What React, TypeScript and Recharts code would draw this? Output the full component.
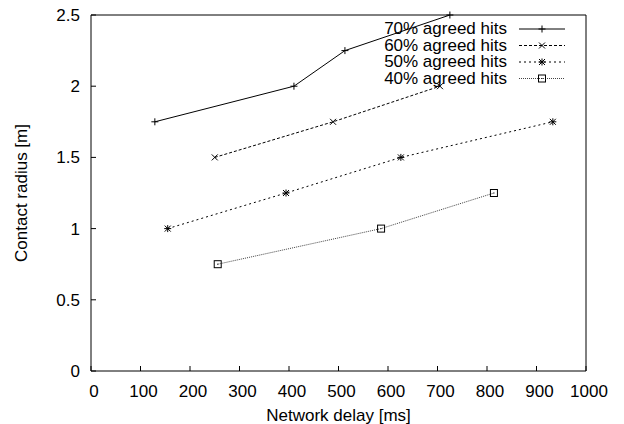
import React from 'react'
import { LineChart, Line, XAxis, YAxis } from 'recharts'

// delay [ms] / radius [m]
const delay70 = [129, 410, 513, 725]
const radius70 = [1.75, 2.0, 2.25, 2.5]
const delay60 = [250, 489, 705]
const radius60 = [1.5, 1.75, 2.0]
const delay50 = [155, 394, 626, 933]
const radius50 = [1.0, 1.25, 1.5, 1.75]
const delay40 = [256, 586, 814]
const radius40 = [0.75, 1.0, 1.25]

const xTicks = [0, 100, 200, 300, 400, 500, 600, 700, 800, 900, 1000]
const yTicks = [0, 0.5, 1, 1.5, 2, 2.5]

const FONT = '"Liberation Sans", Arial, sans-serif'

const zip = (xs: number[], ys: number[]) => xs.map((x, i) => ({ x, y: ys[i] }))

type MarkerKind = 'plus' | 'cross' | 'star' | 'square'

function Marker({ cx, cy, kind }: { cx: number; cy: number; kind: MarkerKind }) {
  const s = 3.5
  const plus = (
    <>
      <line x1={cx - s} y1={cy} x2={cx + s} y2={cy} />
      <line x1={cx} y1={cy - s} x2={cx} y2={cy + s} />
    </>
  )
  const cross = (
    <>
      <line x1={cx - 3} y1={cy - 3} x2={cx + 3} y2={cy + 3} />
      <line x1={cx - 3} y1={cy + 3} x2={cx + 3} y2={cy - 3} />
    </>
  )
  return (
    <g stroke="#000" strokeWidth={1} fill="none">
      {kind === 'plus' && plus}
      {kind === 'cross' && cross}
      {kind === 'star' && (
        <>
          {plus}
          {cross}
        </>
      )}
      {kind === 'square' && (
        <>
          <rect x={cx - 3.5} y={cy - 3.5} width={7} height={7} />
          <rect x={cx - 0.5} y={cy - 0.5} width={1} height={1} fill="#000" stroke="none" />
        </>
      )}
    </g>
  )
}

const series = [
  { name: '70% agreed hits', data: zip(delay70, radius70), dash: undefined, color: '#000', marker: 'plus' as MarkerKind },
  { name: '60% agreed hits', data: zip(delay60, radius60), dash: '3 2', color: '#000', marker: 'cross' as MarkerKind },
  { name: '50% agreed hits', data: zip(delay50, radius50), dash: '2 3', color: '#000', marker: 'star' as MarkerKind },
  { name: '40% agreed hits', data: zip(delay40, radius40), dash: '1 1', color: '#444', marker: 'square' as MarkerKind },
]

function KeyBox() {
  return (
    <svg width={624} height={424} style={{ position: 'absolute', left: 0, top: 0, pointerEvents: 'none' }}>
      {series.map((s, i) => {
        const y = 29 + i * 16.5
        return (
          <g key={s.name}>
            <text x={507} y={y + 5} textAnchor="end" fontFamily={FONT} fontSize={17} fill="#000">
              {s.name}
            </text>
            <line x1={519} y1={y} x2={565} y2={y} stroke={s.color} strokeDasharray={s.dash} />
            <Marker cx={542} cy={y} kind={s.marker} />
          </g>
        )
      })}
    </svg>
  )
}

export default function App() {
  const tickStyle = { fontSize: 17, fill: '#000', fontFamily: FONT }
  return (
    <div style={{ position: 'absolute', left: 0, top: 0, width: 624, height: 424, background: '#fff' }}>
      <LineChart width={624} height={424} margin={{ top: 0, right: 0, left: 0, bottom: 0 }}>
        <XAxis
          type="number"
          dataKey="x"
          domain={[0, 1000]}
          ticks={xTicks}
          height={53}
          tickSize={-5}
          tickMargin={19}
          tick={{ ...tickStyle, dx: 3 }}
          axisLine={{ stroke: '#000' }}
          tickLine={{ stroke: '#000' }}
          label={{ value: 'Network delay [ms]', position: 'insideBottom', offset: 3, style: { fontSize: 17, fill: '#000', fontFamily: FONT } }}
        />
        <XAxis
          xAxisId="top"
          orientation="top"
          type="number"
          dataKey="x"
          domain={[0, 1000]}
          ticks={xTicks}
          height={15}
          tickSize={-5}
          tick={false}
          axisLine={{ stroke: '#000' }}
          tickLine={{ stroke: '#000' }}
        />
        <YAxis
          type="number"
          domain={[0, 2.5]}
          ticks={yTicks}
          width={91}
          tickSize={-5}
          tickMargin={16}
          tick={tickStyle}
          axisLine={{ stroke: '#000' }}
          tickLine={{ stroke: '#000' }}
          label={{ value: 'Contact radius [m]', angle: -90, position: 'insideLeft', offset: 21, style: { textAnchor: 'middle', fontSize: 17, fill: '#000', fontFamily: FONT } }}
        />
        <YAxis
          yAxisId="right"
          orientation="right"
          type="number"
          domain={[0, 2.5]}
          ticks={yTicks}
          width={38}
          tickSize={-5}
          tick={false}
          axisLine={{ stroke: '#000' }}
          tickLine={{ stroke: '#000' }}
        />
        {series.map((s) => (
          <Line
            key={s.name}
            data={s.data}
            dataKey="y"
            name={s.name}
            type="linear"
            stroke={s.color}
            strokeWidth={1}
            strokeDasharray={s.dash}
            isAnimationActive={false}
            dot={(p: any) => <Marker key={`${s.name}-${p.index}`} cx={p.cx} cy={p.cy} kind={s.marker} />}
            activeDot={false}
          />
        ))}
      </LineChart>
      <KeyBox />
    </div>
  )
}
